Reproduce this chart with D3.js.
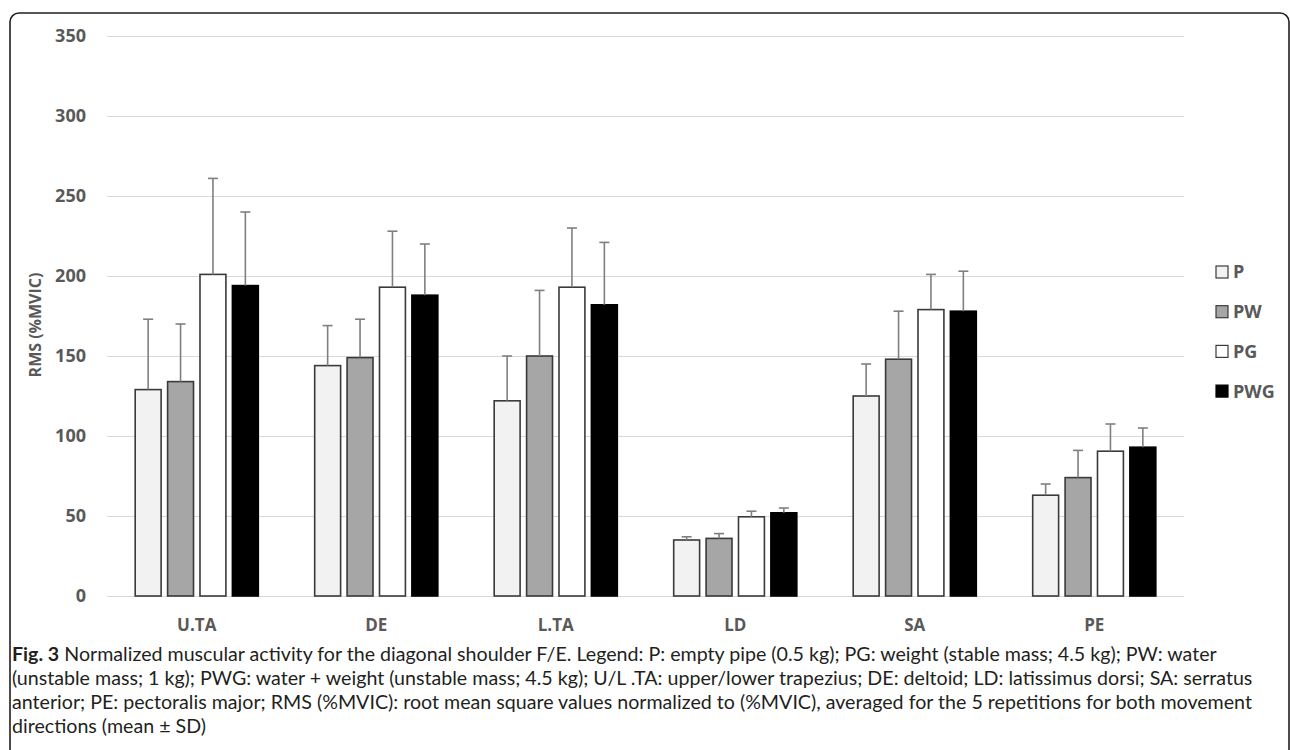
<!DOCTYPE html>
<meta charset="utf-8">
<style>
body { margin: 0; background: #fff; }
svg { display: block; }
.grid line { stroke: #d9d9d9; stroke-width: 1.3px; shape-rendering: crispEdges; }
.tick-lbl, .cat-lbl, .leg-lbl, .y-title {
    font-family: "Open Sans", sans-serif;
    font-weight: bold;
    fill: #595959;
}
.caption { font-family: Lato, "Open Sans", sans-serif; fill: #231f20; }
</style>
<body>
<div id="chart"></div>
<script src="https://cdn.jsdelivr.net/npm/d3@7"></script>
<script>
// muscles on the x axis
var categories = ["U.TA", "DE", "L.TA", "LD", "SA", "PE"];
var seriesNames = ["P", "PW", "PG", "PWG"];

// mean RMS (%MVIC)
var meanP   = [129, 144, 122, 35, 125, 63];
var meanPW  = [134, 149, 150, 36, 148, 74];
var meanPG  = [201, 193, 193, 49.5, 179, 90.5];
var meanPWG = [194, 188, 182, 52, 178, 93];

// standard deviations (upper error bars only)
var sdP   = [44, 25, 28, 2, 20, 7];
var sdPW  = [36, 24, 41, 3, 30, 17];
var sdPG  = [60, 35, 37, 3.5, 22, 17];
var sdPWG = [46, 32, 39, 3, 25, 12];

var yTicks = [0, 50, 100, 150, 200, 250, 300, 350];

var captionLines = [
    ["Fig. 3", " Normalized muscular activity for the diagonal shoulder F/E. Legend: P: empty pipe (0.5 kg); PG: weight (stable mass; 4.5 kg); PW: water"],
    ["", "(unstable mass; 1 kg); PWG: water + weight (unstable mass; 4.5 kg); U/L .TA: upper/lower trapezius; DE: deltoid; LD: latissimus dorsi; SA: serratus"],
    ["", "anterior; PE: pectoralis major; RMS (%MVIC): root mean square values normalized to (%MVIC), averaged for the 5 repetitions for both movement"],
    ["", "directions (mean \u00b1 SD)"]
];

var fills = { P: "#f2f2f2", PW: "#a6a6a6", PG: "#ffffff", PWG: "#000000" };
var means = { P: meanP, PW: meanPW, PG: meanPG, PWG: meanPWG };
var sds = { P: sdP, PW: sdPW, PG: sdPG, PWG: sdPWG };

var W = 1290, H = 750;
var svg = d3.select("#chart").append("svg")
    .attr("width", W)
    .attr("height", H);

// frame of the figure (rounded top, open at the bottom)
svg.append("rect")
    .attr("x", 10).attr("y", 13)
    .attr("width", 1279).attr("height", 800)
    .attr("rx", 9)
    .attr("fill", "none")
    .attr("stroke", "#231f20")
    .attr("stroke-width", 1.6);

var x0 = d3.scaleBand().domain(categories).range([107, 1184]);
var x1 = d3.scaleBand().domain(seriesNames).range([0, x0.bandwidth()])
    .paddingInner(0.2).paddingOuter(0.87);
var y = d3.scaleLinear().domain([0, 350]).range([596, 36]);

// grid
svg.append("g").attr("class", "grid")
    .selectAll("line").data(yTicks).enter().append("line")
    .attr("x1", 107).attr("x2", 1184)
    .attr("y1", function(d) { return Math.round(y(d)) + 0.5; })
    .attr("y2", function(d) { return Math.round(y(d)) + 0.5; });

svg.append("g").selectAll("text").data(yTicks).enter().append("text")
    .attr("class", "tick-lbl")
    .attr("x", 86)
    .attr("y", function(d) { return y(d); })
    .attr("dy", "0.35em")
    .attr("text-anchor", "end")
    .style("font-size", "18px")
    .text(function(d) { return d; });

svg.append("text")
    .attr("class", "y-title")
    .attr("transform", "translate(41,325) rotate(-90)")
    .attr("text-anchor", "middle")
    .style("font-size", "16px")
    .text("RMS (%MVIC)");

// bars
var rows = [];
seriesNames.forEach(function(s) {
    categories.forEach(function(c, i) {
        rows.push({ s: s, c: c, v: means[s][i], sd: sds[s][i] });
    });
});

svg.append("g").selectAll("rect").data(rows).enter().append("rect")
    .attr("x", function(d) { return x0(d.c) + x1(d.s); })
    .attr("y", function(d) { return y(d.v); })
    .attr("width", x1.bandwidth())
    .attr("height", function(d) { return y(0) - y(d.v); })
    .attr("fill", function(d) { return fills[d.s]; })
    .attr("stroke", function(d) { return d.s == "PWG" ? "#000" : "#3a3a3a"; })
    .attr("stroke-width", 1.6);

// error bars
var eb = svg.append("g").attr("stroke", "#7f7f7f").attr("stroke-width", 1.6);
eb.selectAll("line.v").data(rows).enter().append("line")
    .attr("class", "v")
    .attr("x1", function(d) { return x0(d.c) + x1(d.s) + x1.bandwidth() / 2; })
    .attr("x2", function(d) { return x0(d.c) + x1(d.s) + x1.bandwidth() / 2; })
    .attr("y1", function(d) { return y(d.v); })
    .attr("y2", function(d) { return y(d.v + d.sd); });
eb.selectAll("line.cap").data(rows).enter().append("line")
    .attr("class", "cap")
    .attr("x1", function(d) { return x0(d.c) + x1(d.s) + x1.bandwidth() / 2 - 5; })
    .attr("x2", function(d) { return x0(d.c) + x1(d.s) + x1.bandwidth() / 2 + 5; })
    .attr("y1", function(d) { return y(d.v + d.sd); })
    .attr("y2", function(d) { return y(d.v + d.sd); });

// category labels
svg.append("g").selectAll("text").data(categories).enter().append("text")
    .attr("class", "cat-lbl")
    .attr("x", function(d) { return x0(d) + x0.bandwidth() / 2; })
    .attr("y", 631)
    .attr("text-anchor", "middle")
    .style("font-size", "17px")
    .text(function(d) { return d; });

// legend
var leg = svg.append("g").selectAll("g").data(seriesNames).enter().append("g")
    .attr("transform", function(d, i) { return "translate(1216," + (272 + i * 39.7) + ")"; });
leg.append("rect")
    .attr("x", 0).attr("y", -6)
    .attr("width", 12).attr("height", 12)
    .attr("fill", function(d) { return fills[d]; })
    .attr("stroke", function(d) { return d == "PWG" ? "#000" : "#3a3a3a"; })
    .attr("stroke-width", 1.2);
leg.append("text")
    .attr("class", "leg-lbl")
    .attr("x", 17)
    .attr("dy", "0.36em")
    .style("font-size", "18px")
    .text(function(d) { return d; });

// caption, sized so the lines span the same width as in the figure
var targets = [1216, 1230, 1241];
var cap = svg.append("g");
var capTexts = captionLines.map(function(l, i) {
    var t = cap.append("text")
        .attr("class", "caption")
        .attr("x", 12)
        .attr("y", 661 + i * 24)
        .style("font-size", "18px");
    if (l[0]) t.append("tspan").style("font-weight", "bold").text(l[0]);
    t.append("tspan").text(l[1]);
    return t;
});
var k = d3.mean(targets, function(w, i) {
    return w / capTexts[i].node().getComputedTextLength();
});
capTexts.forEach(function(t) { t.style("font-size", (18 * k) + "px"); });
</script>
</body>
